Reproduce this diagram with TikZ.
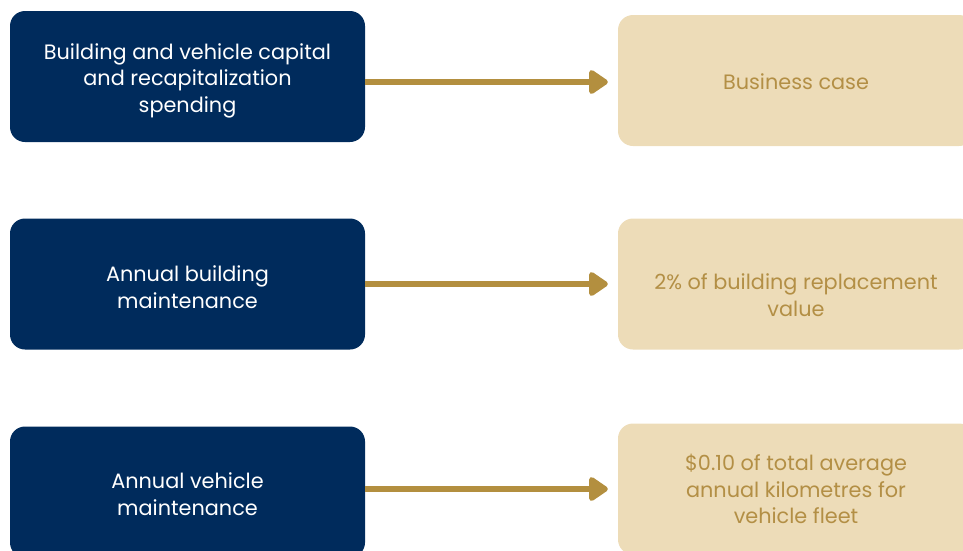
\documentclass[tikz,border=0pt]{standalone}
\usepackage{fontspec}
\setmainfont{Poppins}
\usetikzlibrary{arrows.meta}
\definecolor{navy}{HTML}{002B5C}
\definecolor{beige}{HTML}{EDDCB8}
\definecolor{gold}{HTML}{B38F3F}
\definecolor{goldtext}{HTML}{B38F45}
\begin{document}
\begin{tikzpicture}[x=1pt,y=-1pt,
  leftbox/.style={fill=navy, rounded corners=15pt, minimum width=355pt, minimum height=131pt, text=white, align=center, inner sep=0pt, font=\fontsize{20.8}{26.5}\selectfont},
  rightbox/.style={fill=beige, rounded corners=15pt, minimum width=356pt, minimum height=131pt, text=goldtext, align=center, inner sep=0pt, font=\fontsize{20.8}{26.5}\selectfont},
  txt/.style={fill=none, minimum height=0pt},
  flow/.style={draw=gold, line width=6pt, -{Triangle[length=21pt,width=27pt,round]}, shorten >=10pt}]
\useasboundingbox (0,0) rectangle (963,550);
\clip (0,0) rectangle (963,550);
\node[leftbox] (l1) at (187.5,76.5) {};
\node[leftbox] (l2) at (187.5,284) {};
\node[leftbox] (l3) at (187.5,492) {};
\node[rightbox] (r1) at (796,80.5) {};
\node[rightbox] (r2) at (796,284) {};
\node[rightbox] (r3) at (796,489) {};
\node[leftbox, txt] (t1) at ([yshift=-4pt]l1.center) {Building and vehicle capital\\and recapitalization\\spending};
\node[leftbox, txt] (t2) at ([yshift=-3pt]l2.center) {Annual building\\maintenance};
\node[leftbox, txt] (t3) at ([yshift=-2pt]l3.center) {Annual vehicle\\maintenance};
\node[rightbox, txt] (u1) at ([yshift=-1pt]r1.center) {Business case};
\node[rightbox, txt] (u2) at ([yshift=-11pt]r2.center) {2\% of building replacement\\value};
\node[rightbox, txt] (u3) at (r3.center) {\$0.10 of total average\\annual kilometres for\\vehicle fleet};
\draw[flow] (l1.east |- 0,82) -- (r1.west |- 0,82);
\draw[flow] (l2.east) -- (r2.west);
\draw[flow] (l3.east |- 0,489) -- (r3.west |- 0,489);
\end{tikzpicture}
\end{document}
